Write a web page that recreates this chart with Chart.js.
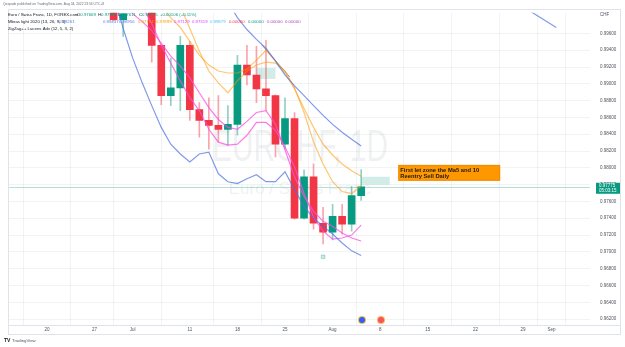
<!DOCTYPE html>
<html>
<head>
<meta charset="utf-8">
<script src="https://cdn.jsdelivr.net/npm/chart.js@4.4.0/dist/chart.umd.min.js"></script>
<style>
html, body { margin: 0; padding: 0; background: #fff; overflow: hidden; }
canvas { display: block; }
</style>
</head>
<body>
<canvas id="chart" width="625" height="347"></canvas>
<script>
// trading-day index, 0 = Mon 20 Jun 2022
const candleDays = [7, 8, 11, 12, 13, 14, 15, 16, 17, 18, 19, 20, 21, 22, 23, 24, 25, 26, 27, 28, 29, 30, 31, 32, 33];
const opens  = [0.99900, 0.99765, 0.99900, 0.99459, 0.98859, 0.98953, 0.99459, 0.98694, 0.98565, 0.98506, 0.98459, 0.98518, 0.99224, 0.99106, 0.98941, 0.98859, 0.98282, 0.98588, 0.97400, 0.97894, 0.97341, 0.97235, 0.97424, 0.97329, 0.97669];
const highs  = [0.99950, 0.99900, 0.99950, 0.99465, 0.99306, 0.99565, 0.99506, 0.98776, 0.98835, 0.98859, 0.98741, 0.99341, 0.99459, 0.99447, 0.99518, 0.98870, 0.98835, 0.98659, 0.97976, 0.98047, 0.97529, 0.97565, 0.97565, 0.97776, 0.97980];
const lows   = [0.99750, 0.99565, 0.99259, 0.98753, 0.98741, 0.98682, 0.98565, 0.98365, 0.98224, 0.98306, 0.98271, 0.98388, 0.98988, 0.98776, 0.98682, 0.98129, 0.98224, 0.97388, 0.97390, 0.97271, 0.97094, 0.97141, 0.97212, 0.97247, 0.97611];
const closes = [0.99765, 0.99835, 0.99459, 0.98859, 0.98953, 0.99459, 0.98694, 0.98565, 0.98506, 0.98459, 0.98518, 0.99224, 0.99106, 0.98941, 0.98859, 0.98282, 0.98588, 0.97400, 0.97894, 0.97341, 0.97235, 0.97424, 0.97329, 0.97669, 0.97775];

// bands
const lowerBandDays = [7, 8, 9, 10, 11, 12, 13, 14, 15, 16, 17, 18, 19, 20, 21, 22, 23, 24, 25, 26, 27, 28, 29, 30, 31, 32, 33];
const lowerBand = [1.00070, 0.99659, 0.99306, 0.99012, 0.98741, 0.98482, 0.98282, 0.98165, 0.98071, 0.98165, 0.98188, 0.97929, 0.97835, 0.97812, 0.97871, 0.97918, 0.97835, 0.97835, 0.97953, 0.97741, 0.97541, 0.97400, 0.97306, 0.97212, 0.97106, 0.97012, 0.96956];
const upperBandDays = [19, 20, 21, 22, 23, 24, 25, 26, 27, 28, 29, 30, 31, 32, 33];
const upperBand = [0.99977, 0.99788, 0.99647, 0.99529, 0.99424, 0.99271, 0.99106, 0.98976, 0.98859, 0.98741, 0.98624, 0.98518, 0.98424, 0.98341, 0.98261];

// moving averages
const maSlowDays = [12, 13, 14, 15, 16, 17, 18, 19, 20, 21, 22, 23, 24, 25, 26, 27, 28, 29, 30, 31, 32, 33];
const maSlow = [0.99918, 0.99788, 0.99671, 0.99506, 0.99341, 0.99224, 0.99153, 0.99129, 0.99129, 0.99176, 0.99282, 0.99400, 0.99271, 0.99129, 0.98941, 0.98706, 0.98482, 0.98282, 0.98153, 0.98047, 0.97965, 0.97899];
const maFastDays = [14, 15, 16, 17, 18, 19, 20, 21, 22, 23, 24, 25, 26, 27, 28, 29, 30, 31, 32, 33];
const maFast = [0.99929, 0.99659, 0.99388, 0.99153, 0.99012, 0.98894, 0.99035, 0.99153, 0.99224, 0.99259, 0.99247, 0.99153, 0.98953, 0.98659, 0.98306, 0.98047, 0.97835, 0.97718, 0.97694, 0.97784];

// pink lines
const pinkADays = [8, 9, 10, 11, 12, 13, 14, 15, 16, 17, 18, 19, 20, 21, 22, 23, 24, 25, 26, 27, 28, 29, 30, 31, 32, 33];
const pinkA = [1.00012, 0.99835, 0.99741, 0.99635, 0.99482, 0.99329, 0.99212, 0.99071, 0.98894, 0.98718, 0.98576, 0.98482, 0.98459, 0.98553, 0.98659, 0.98682, 0.98518, 0.98212, 0.97894, 0.97659, 0.97482, 0.97365, 0.97306, 0.97224, 0.97165, 0.97129];
const pinkBDays = [10, 11, 12, 13, 14, 15, 16, 17, 18, 19, 20, 21, 22, 23, 24, 25, 26, 27, 28, 29, 30, 31, 32, 33];
const pinkB = [0.99918, 0.99718, 0.99459, 0.99247, 0.99035, 0.98835, 0.98682, 0.98459, 0.98306, 0.98271, 0.98282, 0.98388, 0.98541, 0.98541, 0.98447, 0.98247, 0.98012, 0.97694, 0.97412, 0.97247, 0.97153, 0.97165, 0.97200, 0.97319];

// drawings
const projDays = [50, 53.5];
const projLine = [0.99918, 0.99671];
const trendDays = [22.6, 25.5];
const trendLine = [0.99459, 0.99082];
const pivotDays = [29];
const pivotValues = [0.96941];

// axes
const xTickDays = [0, 5, 9, 15, 20, 25, 30, 35, 40, 45, 50, 53];
const xTickLabels = ['20', '27', 'Jul', '11', '18', '25', 'Aug', '8', '15', '22', '29', 'Sep'];
const yTicks = [0.962, 0.964, 0.966, 0.968, 0.970, 0.972, 0.974, 0.976, 0.978, 0.980, 0.982, 0.984, 0.986, 0.988, 0.990, 0.992, 0.994, 0.996];
const lastPrice = 0.97775;

const UP = '#089981';
const DOWN = '#F23645';
const FONT = '"Liberation Sans", Arial, sans-serif';

const pts = (days, vals) => days.map((d, i) => ({ x: d, y: vals[i] }));
const isUp = i => closes[i] >= opens[i];

const bodies = candleDays.map((d, i) => ({ x: d, y: [opens[i], closes[i]] }));
const wicks = candleDays.map((d, i) => ({ x: d, y: [lows[i], highs[i]] }));

function line(days, vals, color, width) {
    return {
        type: 'line',
        data: pts(days, vals),
        borderColor: color,
        borderWidth: width || 1.2,
        pointRadius: 0,
        tension: 0,
        fill: false,
        order: 1
    };
}

const overlay = {
    id: 'overlay',
    beforeDatasetsDraw(chart) {
        const { ctx, chartArea: a, scales: { x, y } } = chart;
        ctx.save();
        ctx.beginPath();
        ctx.rect(a.left, a.top, a.width, a.height);
        ctx.clip();

        // watermark
        ctx.fillStyle = 'rgba(120,123,134,0.11)';
        ctx.textAlign = 'center';
        ctx.textBaseline = 'middle';
        ctx.font = '44px ' + FONT;
        const wm = 'EURCHF, 1D';
        const sx = 176 / ctx.measureText(wm).width;
        ctx.save();
        ctx.translate(300, 149);
        ctx.scale(sx, 1);
        ctx.fillText(wm, 0, 0);
        ctx.restore();
        ctx.font = '17px ' + FONT;
        ctx.fillText('Euro / Swiss Franc', 300, 189);

        // zone boxes
        ctx.fillStyle = 'rgba(8,153,129,0.18)';
        let x1 = x.getPixelForValue(22), x2 = x.getPixelForValue(24);
        let y1 = y.getPixelForValue(0.99188), y2 = y.getPixelForValue(0.99059);
        ctx.fillRect(x1, y1, x2 - x1, y2 - y1);
        x1 = x.getPixelForValue(33); x2 = x.getPixelForValue(36);
        y1 = y.getPixelForValue(0.97894); y2 = y.getPixelForValue(0.97800);
        ctx.fillRect(x1, y1, x2 - x1, y2 - y1);

        // last price line
        const py = Math.round(y.getPixelForValue(lastPrice)) + 0.5;
        ctx.strokeStyle = 'rgba(8,153,129,0.3)';
        ctx.lineWidth = 1;
        ctx.beginPath();
        ctx.moveTo(a.left, py);
        ctx.lineTo(a.right, py);
        ctx.stroke();
        ctx.restore();
    },
    afterDraw(chart) {
        const { ctx, chartArea: a, scales: { x, y } } = chart;
        ctx.save();

        // frame
        ctx.strokeStyle = '#e0e3eb';
        ctx.lineWidth = 1;
        ctx.strokeRect(8.5, 9.5, 612, 325);
        ctx.beginPath();
        ctx.moveTo(8, a.bottom + 0.5);
        ctx.lineTo(621, a.bottom + 0.5);
        ctx.stroke();

        // header
        ctx.textAlign = 'left';
        ctx.textBaseline = 'middle';
        ctx.fillStyle = '#6a6d78';
        ctx.font = '3.3px ' + FONT;
        ctx.fillText('Qaspade published on TradingView.com, Aug 04, 2022 23:56 UTC+8', 3, 4.5);

        // legend rows
        ctx.font = '4.3px ' + FONT;
        ctx.fillStyle = '#131722';
        ctx.fillText('Euro / Swiss Franc, 1D, FOREX.com', 8, 14.5);
        const ohlc = [['O', '0.97669', 77], ['H', '0.97980', 98], ['L', '0.97611', 118], ['C', '0.97775', 139]];
        ohlc.forEach(([k, v, px]) => {
            ctx.fillStyle = '#131722';
            ctx.fillText(k, px, 14.5);
            ctx.fillStyle = UP;
            ctx.fillText(v, px + ctx.measureText(k).width, 14.5);
        });
        ctx.fillText('+0.00106 (+0.11%)', 160, 14.5);

        ctx.fillStyle = '#131722';
        ctx.fillText('Mbras light 2020 (13, 26, 9, 3)', 8, 21.5);
        const vals = [['0.98261', 59, '#5b7fe0'], ['0.99437', 103, '#5b7fe0'], ['0.96956', 119, '#5b7fe0'],
            ['0.97784', 138, '#ff9800'], ['0.97899', 156, '#ff9800'], ['0.97129', 174, '#e040fb'],
            ['0.97319', 192, '#e040fb'], ['0.99879', 210, '#4fc3f7'], ['0.00000', 229, '#f23645'],
            ['0.00000', 248, '#089981'], ['0.00000', 267, '#ab47bc'], ['0.00000', 285, '#ab47bc']];
        vals.forEach(([v, px, c]) => { ctx.fillStyle = c; ctx.fillText(v, px, 21.5); });
        ctx.fillStyle = '#131722';
        ctx.fillText('ZigZag++ Lucens Adv (12, 5, 3, 2)', 8, 28.5);

        // axis currency
        ctx.fillStyle = '#50535e';
        ctx.font = '4.5px ' + FONT;
        ctx.fillText('CHF', 600, 15);

        // last price label
        const py = y.getPixelForValue(lastPrice);
        ctx.fillStyle = UP;
        ctx.fillRect(596, py - 4, 24, 11);
        ctx.fillStyle = '#fff';
        ctx.font = '4.5px ' + FONT;
        ctx.fillText(lastPrice.toFixed(5), 599, py - 0.5);
        ctx.fillText('05:03:15', 599, py + 4.5);

        // note
        const nx1 = x.getPixelForValue(36.9), nx2 = x.getPixelForValue(47.6);
        const ny1 = y.getPixelForValue(0.98035), ny2 = y.getPixelForValue(0.97847);
        ctx.fillStyle = '#ff9800';
        ctx.fillRect(nx1, ny1, nx2 - nx1, ny2 - ny1);
        ctx.strokeStyle = '#f08c00';
        ctx.strokeRect(nx1 + 0.5, ny1 + 0.5, nx2 - nx1 - 1, ny2 - ny1 - 1);
        ctx.fillStyle = '#1a1a1a';
        ctx.font = 'bold 5.8px ' + FONT;
        ctx.fillText('First let zone the Ma5 and 10', nx1 + 2, ny1 + 5);
        ctx.fillText('Reentry Sell Daily', nx1 + 2, ny1 + 11.5);

        // event icons
        [[362, '#2962ff'], [381, '#f7525f']].forEach(([cx, c]) => {
            ctx.beginPath();
            ctx.arc(cx, 320, 4, 0, Math.PI * 2);
            ctx.fillStyle = '#ffb74d';
            ctx.fill();
            ctx.beginPath();
            ctx.arc(cx, 320, 3, 0, Math.PI * 2);
            ctx.fillStyle = c;
            ctx.fill();
        });

        // footer logo
        ctx.fillStyle = '#131722';
        ctx.font = 'bold 5px ' + FONT;
        ctx.fillText('TV', 4, 341);
        ctx.font = '4.3px ' + FONT;
        ctx.fillStyle = '#50535e';
        ctx.fillText('TradingView', 12, 341);
        ctx.restore();
    }
};

new Chart(document.getElementById('chart'), {
    type: 'bar',
    data: {
        datasets: [
            line(lowerBandDays, lowerBand, 'rgba(76,110,225,0.7)'),
            line(upperBandDays, upperBand, 'rgba(76,110,225,0.7)'),
            line(projDays, projLine, 'rgba(76,110,225,0.7)'),
            line(maSlowDays, maSlow, 'rgba(255,152,0,0.55)'),
            line(maFastDays, maFast, 'rgba(255,152,0,0.55)'),
            line(pinkADays, pinkA, 'rgba(250,80,225,0.75)'),
            line(pinkBDays, pinkB, 'rgba(250,80,225,0.75)'),
            line(trendDays, trendLine, 'rgba(70,70,70,0.55)', 1),
            {
                type: 'line',
                data: pts(pivotDays, pivotValues),
                showLine: false,
                pointStyle: 'rect',
                pointRadius: 2.5,
                pointBackgroundColor: 'rgba(8,153,129,0.2)',
                pointBorderColor: 'rgba(8,153,129,0.3)',
                order: 1
            },
            {
                data: wicks,
                backgroundColor: candleDays.map((d, i) => isUp(i) ? 'rgba(8,153,129,0.45)' : 'rgba(242,54,69,0.45)'),
                barThickness: 1,
                grouped: false,
                borderSkipped: false,
                order: 3
            },
            {
                data: bodies,
                backgroundColor: candleDays.map((d, i) => isUp(i) ? UP : DOWN),
                barThickness: 7,
                grouped: false,
                borderSkipped: false,
                minBarLength: 1,
                order: 2
            }
        ]
    },
    options: {
        responsive: false,
        animation: false,
        events: [],
        layout: { padding: { left: 8, top: 9, right: 0, bottom: 0 } },
        scales: {
            x: {
                type: 'linear',
                min: -4.1,
                max: 57.04,
                offset: false,
                afterBuildTicks: s => { s.ticks = xTickDays.map(v => ({ value: v })); },
                afterFit: s => { s.height = 22; },
                ticks: {
                    autoSkip: false,
                    maxRotation: 0,
                    padding: 2,
                    color: '#50535e',
                    font: { size: 4.5, family: FONT },
                    callback: (v, i) => xTickLabels[i]
                },
                grid: { color: 'rgba(42,46,57,0.06)', drawTicks: false },
                border: { display: false }
            },
            y: {
                position: 'right',
                min: 0.961294,
                max: 0.998471,
                afterBuildTicks: s => { s.ticks = yTicks.map(v => ({ value: v })); },
                afterFit: s => { s.width = 35; },
                ticks: {
                    padding: 10,
                    color: '#50535e',
                    font: { size: 4.5, family: FONT },
                    callback: v => v.toFixed(5)
                },
                grid: { color: 'rgba(42,46,57,0.06)', drawTicks: false },
                border: { display: false }
            }
        },
        plugins: {
            legend: { display: false },
            tooltip: { enabled: false }
        }
    },
    plugins: [overlay]
});
</script>
</body>
</html>
